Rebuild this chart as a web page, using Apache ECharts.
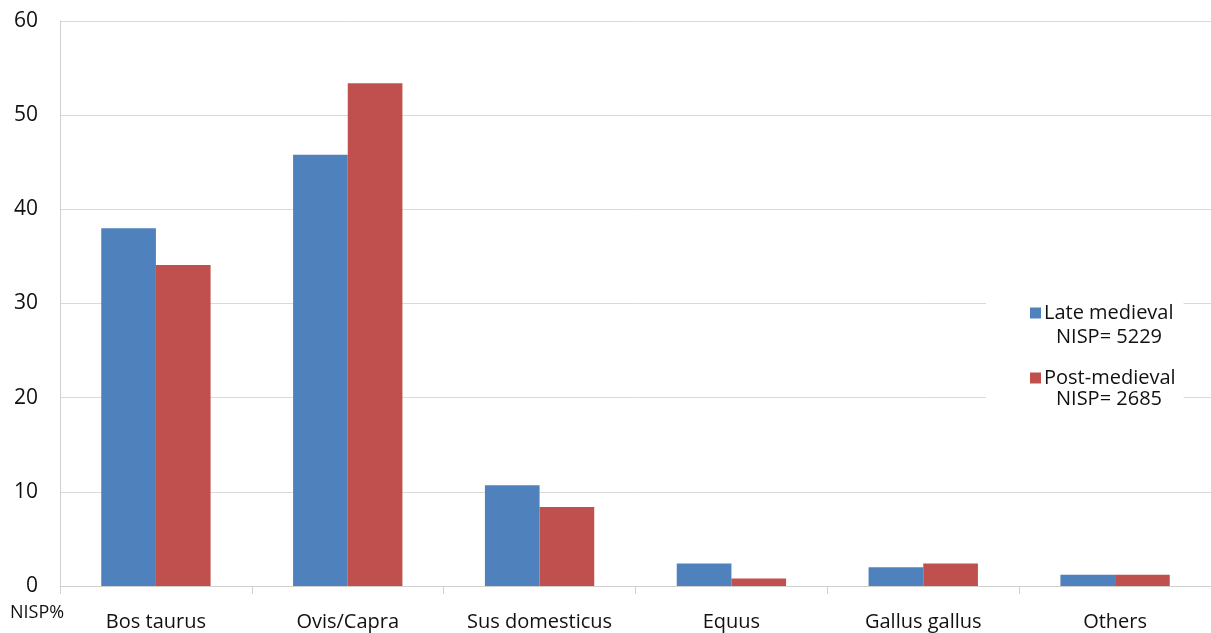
<!DOCTYPE html>
<html>
<head>
<meta charset="utf-8">
<script src="https://cdn.jsdelivr.net/npm/echarts@6/dist/echarts.min.js"></script>
<style>html,body{margin:0;padding:0;background:#fff}#c{width:1211px;height:633px}</style>
</head>
<body>
<div id="c"></div>
<script>
const categories = ['Bos taurus', 'Ovis/Capra', 'Sus domesticus', 'Equus', 'Gallus gallus', 'Others'];
const lateMedieval = [38.0, 45.8, 10.7, 2.4, 2.0, 1.2];
const postMedieval = [34.1, 53.4, 8.4, 0.8, 2.4, 1.2];
const seriesNames = ['Late medieval', 'Post-medieval'];
const nispLabels = ['NISP= 5229', 'NISP= 2685'];
const yTicks = [0, 10, 20, 30, 40, 50, 60];

const FONT = '"Open Sans", "Noto Sans", sans-serif';
const chart = echarts.init(document.getElementById('c'));
chart.setOption({
  animation: false,
  textStyle: { fontFamily: FONT },
  grid: { left: 60, top: 21, width: 1155, height: 565, containLabel: false },
  xAxis: {
    type: 'category',
    data: categories,
    axisLine: { lineStyle: { color: '#d0d0d0' } },
    axisTick: { show: true, length: 8, lineStyle: { color: '#d0d0d0' } },
    axisLabel: { color: '#111', fontSize: 20, margin: 26, fontFamily: FONT }
  },
  yAxis: {
    type: 'value',
    min: yTicks[0],
    max: yTicks[yTicks.length - 1],
    interval: 10,
    axisLine: { show: true, lineStyle: { color: '#d0d0d0' } },
    axisTick: { show: false },
    splitLine: { lineStyle: { color: '#dadada' } },
    axisLabel: { color: '#111', fontSize: 21, margin: 22, fontFamily: FONT }
  },
  legend: {
    orient: 'vertical',
    left: 986,
    top: 291,
    padding: [12, 8, 30, 44],
    backgroundColor: '#ffffff',
    itemWidth: 11,
    itemHeight: 11,
    itemGap: 45,
    icon: 'rect',
    textStyle: { color: '#111', fontSize: 20, fontFamily: FONT, padding: [0, 0, 0, -2] },
    data: seriesNames
  },
  graphic: [
    { type: 'text', z: 100, left: 10, top: 604, style: { text: 'NISP%', fontSize: 18, fill: '#111', fontFamily: FONT } },
    { type: 'text', z: 100, left: 1056, top: 327, style: { text: nispLabels[0], fontSize: 20, fill: '#111', fontFamily: FONT } },
    { type: 'text', z: 100, left: 1056, top: 389, style: { text: nispLabels[1], fontSize: 20, fill: '#111', fontFamily: FONT } }
  ],
  series: [
    { name: seriesNames[0], type: 'bar', data: lateMedieval, barGap: '0%', barCategoryGap: '43%', itemStyle: { color: '#4F81BD' } },
    { name: seriesNames[1], type: 'bar', data: postMedieval, barGap: '0%', barCategoryGap: '43%', itemStyle: { color: '#C0504D' } }
  ]
});
</script>
</body>
</html>
